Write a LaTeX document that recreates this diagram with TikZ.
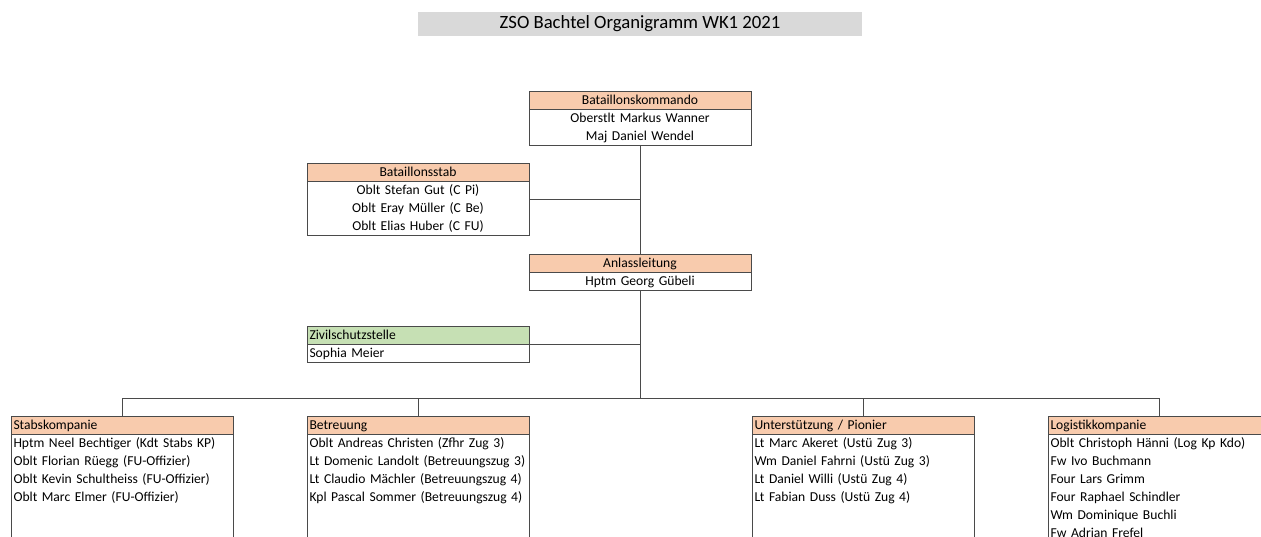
\documentclass[tikz,border=0pt]{standalone}
\usepackage{fontspec}
\setmainfont{Carlito}
\usetikzlibrary{positioning,calc}
\definecolor{ZsoPeach}{HTML}{F8CBAD}
\definecolor{ZsoGreen}{HTML}{C6E0B4}
\definecolor{ZsoTitle}{HTML}{D9D9D9}
\definecolor{ZsoLine}{HTML}{4A4A4A}
\newcommand{\zsoRow}{\rule[-4.4pt]{0pt}{18pt}}

\begin{document}
\begin{tikzpicture}[x=1pt,y=-1pt,node distance=0pt,
    every node/.style={font=\fontsize{13.6}{18}\selectfont,inner ysep=0pt},
    cell/.style={draw=ZsoLine,line width=0.9pt,outer sep=0pt,text width=217pt,
      inner xsep=2.5pt,execute at begin node=\zsoRow,execute at end node=\zsoRow},
    head/.style={cell,fill=ZsoPeach,align=center},
    headleft/.style={cell,fill=ZsoPeach,align=left},
    headgreen/.style={cell,fill=ZsoGreen,align=left},
    body/.style={cell,fill=white,align=center},
    bodyleft/.style={cell,fill=white,align=left},
    bodylong/.style={bodyleft,text depth=90pt},
    link/.style={draw=ZsoLine,line width=0.9pt}]

  \useasboundingbox (0,0) rectangle (1261,537);
  \clip (0,0) rectangle (1261,537);

  % title
  \node[fill=ZsoTitle,minimum width=444pt,minimum height=24pt,
    font=\fontsize{18.7}{22}\selectfont] (title) at (640,24)
    {ZSO Bachtel Organigramm WK1 2021};

  % command
  \node[head,anchor=north west] (kdoHead) at (529,91) {Bataillonskommando};
  \node[body,below=of kdoHead] (kdoBody)
    {Oberstlt Markus Wanner\\Maj Daniel Wendel};

  \node[head,anchor=north west] (stabHead) at (307,163) {Bataillonsstab};
  \node[body,below=of stabHead] (stabBody)
    {Oblt Stefan Gut (C Pi)\\Oblt Eray Müller (C Be)\\Oblt Elias Huber (C FU)};

  \node[head,anchor=north west] (anlHead) at (529,254) {Anlassleitung};
  \node[body,below=of anlHead] (anlBody) {Hptm Georg Gübeli};

  \node[headgreen,anchor=north west] (zivHead) at (307,326) {Zivilschutzstelle};
  \node[bodyleft,below=of zivHead] (zivBody) {Sophia Meier};

  % companies
  \node[headleft,anchor=north west] (skpHead) at (11,416) {Stabskompanie};
  \node[bodylong,below=of skpHead] (skpBody)
    {Hptm Neel Bechtiger (Kdt Stabs KP)\\Oblt Florian Rüegg (FU-Offizier)\\
     Oblt Kevin Schultheiss (FU-Offizier)\\Oblt Marc Elmer (FU-Offizier)};

  \node[headleft,anchor=north west] (betHead) at (307,416) {Betreuung};
  \node[bodylong,below=of betHead] (betBody)
    {Oblt Andreas Christen (Zfhr Zug 3)\\Lt Domenic Landolt (Betreuungszug 3)\\
     Lt Claudio Mächler (Betreuungszug 4)\\Kpl Pascal Sommer (Betreuungszug 4)};

  \node[headleft,anchor=north west] (untHead) at (752,416) {Unterstützung / Pionier};
  \node[bodylong,below=of untHead] (untBody)
    {Lt Marc Akeret (Ustü Zug 3)\\Wm Daniel Fahrni (Ustü Zug 3)\\
     Lt Daniel Willi (Ustü Zug 4)\\Lt Fabian Duss (Ustü Zug 4)};

  \node[headleft,anchor=north west] (logHead) at (1048,416) {Logistikkompanie};
  \node[bodylong,below=of logHead] (logBody)
    {Oblt Christoph Hänni (Log Kp Kdo)\\Fw Ivo Buchmann\\Four Lars Grimm\\
     Four Raphael Schindler\\Wm Dominique Buchli\\Fw Adrian Frefel};

  % connectors
  \coordinate (stabMid) at ($(stabHead.north east)!0.5!(stabBody.south east)$);
  \coordinate (bus) at (anlBody.south |- 0,398.5);
  \draw[link] (kdoBody.south) -- (anlHead.north);
  \draw[link] (stabMid) -- (stabMid -| kdoBody.south);
  \draw[link] (zivHead.south east) -- (zivHead.south east -| anlBody.south);
  \draw[link] (anlBody.south) -- (bus);
  \draw[link] (skpHead.north) |- (bus) -| (logHead.north);
  \draw[link] (betHead.north) -- (betHead.north |- bus);
  \draw[link] (untHead.north) -- (untHead.north |- bus);

\end{tikzpicture}
\end{document}
